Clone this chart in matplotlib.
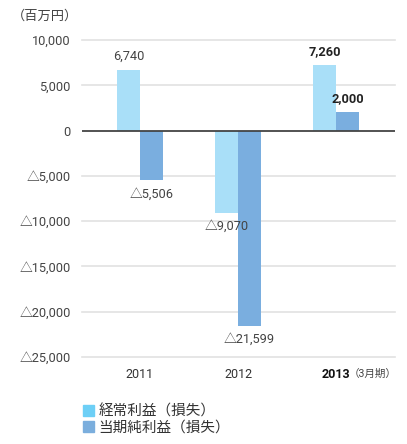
import matplotlib
matplotlib.use('Agg')
import matplotlib.pyplot as plt
import numpy as np
from matplotlib.patches import Patch

plt.rcParams['font.family'] = ['Roboto', 'Noto Sans CJK JP', 'DejaVu Sans']

# Data
years = ['2011', '2012', '2013']
ordinary_income = [6740, -9070, 7260]
net_income = [-5506, -21599, 2000]
series_names = ['経常利益（損失）', '当期純利益（損失）']
y_ticks = [10000, 5000, 0, -5000, -10000, -15000, -20000, -25000]


def fmt(v):
    return f'{v:,}' if v >= 0 else f'△{-v:,}'


LIGHT = '#A9DFF8'
DARK = '#7AAEDF'
LEGEND_LIGHT = '#6DCFF6'
LEGEND_DARK = '#7BAEDD'
TEXT = '#444444'

fig = plt.figure(figsize=(4.07, 4.44), dpi=100)
ax = fig.add_axes([82 / 407, 87 / 444, 313 / 407, 317 / 444])

x = np.arange(len(years))
w = 0.235
b1 = ax.bar(x - w / 2, ordinary_income, w, color=LIGHT, zorder=2)
b2 = ax.bar(x + w / 2, net_income, w, color=DARK, zorder=2)

ax.set_xlim(-0.59, 2.6)
ax.set_ylim(-25000, 10000)
ax.set_yticks(y_ticks)
ax.set_yticklabels([fmt(v) for v in y_ticks], fontsize=9.2, color=TEXT)
ax.tick_params(axis='y', length=0, pad=8)
ax.tick_params(axis='x', length=0, pad=8)
ax.set_xticks(x)
ax.set_xticklabels(years, fontsize=9, color='#333333')
ax.get_xticklabels()[2].set_fontweight('bold')
ax.get_xticklabels()[2].set_color('#111111')

for v in y_ticks:
    if v != 0:
        ax.axhline(v, color='#E2E2E2', lw=1.2, zorder=1, clip_on=False)
ax.axhline(0, color='#444444', lw=1.3, zorder=3)

for s in ax.spines.values():
    s.set_visible(False)

# value labels
for i, (bars, vals) in enumerate([(b1, ordinary_income), (b2, net_income)]):
    for j, (bar, v) in enumerate(zip(bars, vals)):
        cx = bar.get_x() + bar.get_width() / 2
        bold = (j == 2)
        off = 5 if v >= 0 else -5
        va = 'bottom' if v >= 0 else 'top'
        ax.annotate(fmt(v), (cx, v), xytext=(0, off), textcoords='offset points',
                    ha='center', va=va, fontsize=9.2,
                    fontweight='bold' if bold else 'normal',
                    color='#222222' if bold else TEXT, zorder=4)

ax.annotate('（3月期）', (2, -25000), xytext=(9, -8.5), textcoords='offset points',
            ha='left', va='top', fontsize=7.6, color=TEXT, annotation_clip=False)

fig.text(12 / 407, 1 - 16 / 444, '（百万円）', fontsize=9.5, color=TEXT, va='center', ha='left')

handles = [Patch(color=LEGEND_LIGHT), Patch(color=LEGEND_DARK)]
fig.legend(handles, series_names, loc='upper left', bbox_to_anchor=(76 / 407, 1 - 397 / 444),
           frameon=False, fontsize=10.5, handlelength=0.75, handleheight=0.75,
           handletextpad=0.3, labelspacing=0.15, borderpad=0, labelcolor='#333333')

fig.savefig('out.png', dpi=100)
